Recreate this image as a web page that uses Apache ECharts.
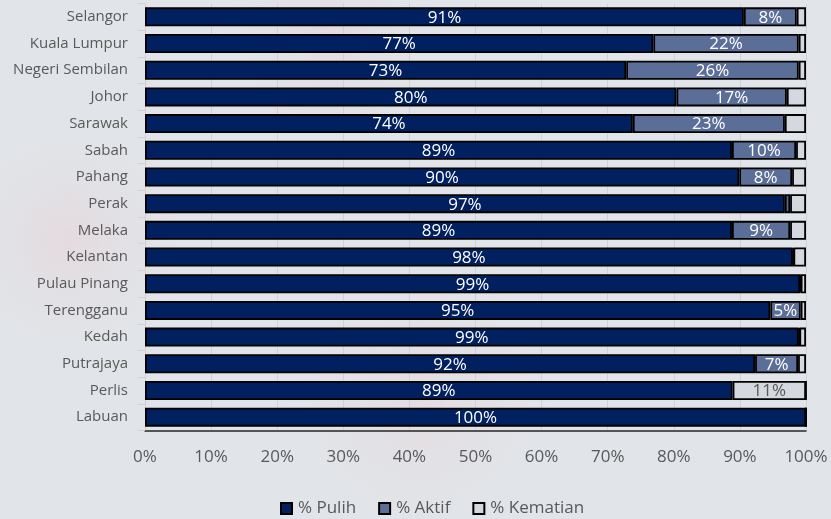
<!DOCTYPE html>
<html>
<head>
<meta charset="utf-8">
<script src="https://cdn.jsdelivr.net/npm/echarts@6/dist/echarts.min.js"></script>
<style>
html,body{margin:0;padding:0;background:#e1e4e8;}
#c{width:831px;height:519px;}
</style>
</head>
<body>
<div id="c"></div>
<script>
var categories = ['Selangor','Kuala Lumpur','Negeri Sembilan','Johor','Sarawak','Sabah','Pahang','Perak','Melaka','Kelantan','Pulau Pinang','Terengganu','Kedah','Putrajaya','Perlis','Labuan'];
var pulih    = [90.6, 76.9, 72.8, 80.4, 73.8, 88.8, 89.9, 96.8, 88.8, 98.0, 99.1, 94.6, 98.9, 92.3, 88.9, 100];
var aktif    = [8.0, 22.0, 26.1, 16.7, 23.0, 9.7, 8.0, 0.8, 8.8, 0.1, 0.1, 4.6, 0.1, 6.5, 11.1, 0];
var kematian = [1.4, 1.1, 1.1, 2.9, 3.2, 1.5, 2.1, 2.4, 2.4, 1.9, 0.8, 0.8, 1.0, 1.2, 0, 0];
var xTicks = ['0%','10%','20%','30%','40%','50%','60%','70%','80%','90%','100%'];

var C_PULIH = '#002060', C_AKTIF = '#5a6e98', C_KEM = '#d5d9df';
var FONT = 'Open Sans';

var cats = categories.slice().reverse();
function rev(a){ return a.slice().reverse(); }

var aktifData = rev(aktif).map(function(v, i){
  if (cats[i] === 'Perlis') {
    return {value: v, itemStyle: {color: C_KEM}, label: {color: '#595959'}};
  }
  return v;
});

function fmt(p){
  var v = typeof p.value === 'object' ? p.value.value : p.value;
  return v >= 4 ? Math.round(v) + '%' : '';
}

var legTxt = {fontFamily: FONT, fontSize: 17, color: '#595959', padding: [0, 0, 0, 1]};

var chart = echarts.init(document.getElementById('c'));
chart.setOption({
  backgroundColor: '#e1e4e8',
  animation: false,
  textStyle: {fontFamily: FONT},
  graphic: [
    {type:'circle', shape:{cx:70, cy:240, r:130}, silent:true, z:-10,
     style:{fill:{type:'radial', x:0.5, y:0.5, r:0.5, colorStops:[{offset:0,color:'rgba(235,195,200,0.3)'},{offset:1,color:'rgba(225,228,232,0)'}]}}},
    {type:'circle', shape:{cx:330, cy:40, r:110}, silent:true, z:-10,
     style:{fill:{type:'radial', x:0.5, y:0.5, r:0.5, colorStops:[{offset:0,color:'rgba(235,195,200,0.3)'},{offset:1,color:'rgba(225,228,232,0)'}]}}},
    {type:'circle', shape:{cx:420, cy:400, r:140}, silent:true, z:-10,
     style:{fill:{type:'radial', x:0.5, y:0.5, r:0.5, colorStops:[{offset:0,color:'rgba(238,200,205,0.3)'},{offset:1,color:'rgba(225,228,232,0)'}]}}}
  ],
  grid: {left: 145, right: 25, top: 3.5, bottom: 88.5, containLabel: false},
  legend: {
    top: 495, left: 275, icon: 'rect',
    itemWidth: 11, itemHeight: 11, itemGap: 22,
    textStyle: legTxt,
    data: [
      {name: '% Pulih', textStyle: legTxt, itemStyle: {color: C_PULIH, borderColor: '#000', borderWidth: 2}},
      {name: '% Aktif', textStyle: legTxt, itemStyle: {color: C_AKTIF, borderColor: '#000', borderWidth: 2}},
      {name: '% Kematian', textStyle: legTxt, itemStyle: {color: C_KEM, borderColor: '#000', borderWidth: 2}}
    ]
  },
  xAxis: {
    type: 'value', min: 0, max: 100, interval: 10,
    axisLine: {show: true, lineStyle: {color: '#262626', width: 1.5}},
    axisTick: {show: false},
    splitLine: {show: true, lineStyle: {color: '#cfd3d8', width: 1}},
    axisLabel: {
      fontFamily: FONT, fontSize: 17, color: '#595959', margin: 18,
      formatter: function(v){ return xTicks[Math.round(v/10)]; }
    }
  },
  yAxis: {
    type: 'category', data: cats,
    axisLine: {show: false},
    axisTick: {show: true, length: 7, lineStyle: {color: '#d3d3d3'}},
    axisLabel: {fontFamily: FONT, fontSize: 15, color: '#595959', margin: 17}
  },
  series: [
    {
      name: '% Pulih', type: 'bar', stack: 's', barWidth: '71%',
      data: rev(pulih),
      itemStyle: {color: C_PULIH, borderColor: '#000', borderWidth: 1.8},
      label: {show: true, position: 'inside', color: '#fff', fontFamily: FONT, fontSize: 17, offset: [0, 1], formatter: fmt}
    },
    {
      name: '% Aktif', type: 'bar', stack: 's', barWidth: '71%',
      data: aktifData,
      itemStyle: {color: C_AKTIF, borderColor: '#000', borderWidth: 1.8},
      label: {show: true, position: 'inside', color: '#fff', fontFamily: FONT, fontSize: 17, offset: [0, 1], formatter: fmt}
    },
    {
      name: '% Kematian', type: 'bar', stack: 's', barWidth: '71%',
      data: rev(kematian),
      itemStyle: {color: C_KEM, borderColor: '#000', borderWidth: 1.8},
      label: {show: false}
    }
  ]
});
</script>
</body>
</html>
